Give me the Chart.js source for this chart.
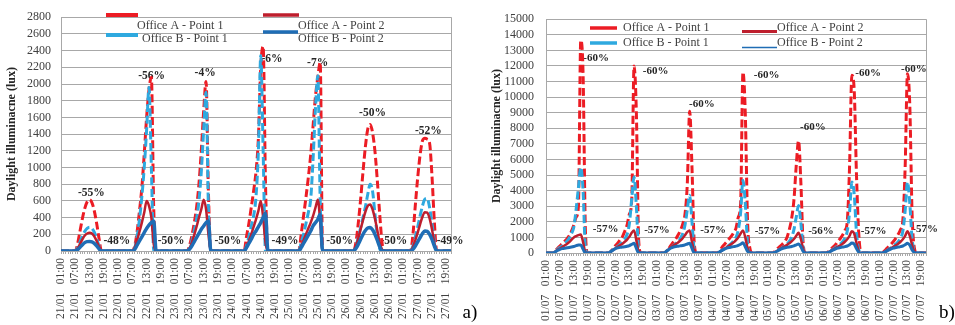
<!DOCTYPE html>
<html><head><meta charset="utf-8">
<script src="https://cdn.jsdelivr.net/npm/chart.js@4.4.1/dist/chart.umd.min.js"></script>
<style>
html,body{margin:0;padding:0;background:#fff;}
#wrap{position:relative;width:955px;height:325px;overflow:hidden;background:#fff;}
#c1{position:absolute;left:0;top:0;}
#c2{position:absolute;left:480px;top:0;}
</style></head><body>
<div id="wrap"><canvas id="c1" width="480" height="325"></canvas><canvas id="c2" width="475" height="325"></canvas></div>
<script>
// ---------- categories ----------
const janDays = ['21/01','22/01','23/01','24/01','25/01','26/01','27/01'];
const julDays = ['01/07','02/07','03/07','04/07','05/07','06/07','07/07'];
const hourLabels = ['01:00','02:00','03:00','04:00','05:00','06:00','07:00','08:00','09:00','10:00','11:00','12:00',
                    '13:00','14:00','15:00','16:00','17:00','18:00','19:00','20:00','21:00','22:00','23:00','24:00'];
const pointCount = 165;
const seriesNames = ['Office A - Point 1','Office B - Point 1','Office A - Point 2','Office B - Point 2'];

// ---------- January (a) series, hourly ----------
const janOfficeA1 = [
 0,0,0,0,0,0,0,90,240,390,510,590,615,580,480,330,150,0,0,0,0,0,0,0,
 0,0,0,0,0,0,0,60,230,480,760,1160,1600,1930,2080,500,0,0,0,0,0,0,0,0,
 0,0,0,0,0,0,60,180,330,520,800,1200,1680,2030,700,0,0,0,0,0,0,0,0,0,
 0,0,0,0,0,0,170,330,520,720,950,1350,2200,2450,800,0,0,0,0,0,0,0,0,0,
 0,0,0,0,0,200,420,640,880,1150,1500,1850,2080,2260,0,0,0,0,0,0,0,0,0,0,
 0,0,0,0,100,330,620,950,1250,1460,1515,1420,1200,850,450,100,0,0,0,0,0,0,0,0,
 0,0,0,0,200,550,880,1150,1320,1350,1340,1290,900,350,0,0,0,0,0,0,0];
const janOfficeB1 = [
 0,0,0,0,0,0,0,40,110,180,235,270,285,270,225,150,60,0,0,0,0,0,0,0,
 0,0,0,0,0,0,0,40,170,380,650,1000,1450,1960,1000,0,0,0,0,0,0,0,0,0,
 0,0,0,0,0,0,30,120,240,380,600,950,1450,1900,500,0,0,0,0,0,0,0,0,0,
 0,0,0,0,0,0,60,170,300,420,650,1200,2340,1200,0,0,0,0,0,0,0,0,0,0,
 0,0,0,0,0,100,200,330,460,620,1100,1700,2100,600,0,0,0,0,0,0,0,0,0,0,
 0,0,0,0,60,160,280,400,530,680,800,720,450,180,30,0,0,0,0,0,0,0,0,0,
 0,0,0,0,60,170,290,420,540,620,630,520,330,120,0,0,0,0,0,0,0];
const janOfficeA2 = [
 0,0,0,0,0,0,0,30,85,140,185,210,220,210,175,120,50,0,0,0,0,0,0,0,
 0,0,0,0,0,0,0,40,130,230,340,460,600,540,400,80,0,0,0,0,0,0,0,0,
 0,0,0,0,0,0,30,100,190,290,400,500,615,500,200,0,0,0,0,0,0,0,0,0,
 0,0,0,0,0,0,40,120,200,290,380,480,600,400,100,0,0,0,0,0,0,0,0,0,
 0,0,0,0,0,60,130,200,270,340,420,520,615,350,0,0,0,0,0,0,0,0,0,0,
 0,0,0,0,60,150,260,370,470,540,557,500,390,250,100,20,0,0,0,0,0,0,0,0,
 0,0,0,0,50,130,220,320,410,465,460,390,260,100,0,0,0,0,0,0,0];
const janOfficeB2 = [
 0,0,0,0,0,0,0,15,45,75,100,112,115,110,92,62,25,0,0,0,0,0,0,0,
 0,0,0,0,0,0,0,20,70,120,170,220,270,310,340,360,0,0,0,0,0,0,0,0,
 0,0,0,0,0,0,20,60,110,160,210,260,300,340,360,0,0,0,0,0,0,0,0,0,
 0,0,0,0,0,0,40,90,140,200,240,290,340,400,455,0,0,0,0,0,0,0,0,0,
 0,0,0,0,0,40,90,140,190,240,300,340,380,440,0,0,0,0,0,0,0,0,0,0,
 0,0,0,0,30,80,140,200,245,275,280,255,200,130,50,0,0,0,0,0,0,0,0,0,
 0,0,0,0,20,60,110,160,210,240,235,200,140,60,0,0,0,0,0,0,0];

// ---------- July (b) series, hourly ----------
const julOfficeA1 = [
 0,0,0,0,150,300,450,600,750,900,1100,1400,1800,2300,3000,13650,11500,1500,0,0,0,0,0,0,
 0,0,0,0,100,300,480,650,850,1050,1400,1800,2500,3400,12000,9000,800,0,0,0,0,0,0,0,
 0,0,0,0,100,300,500,720,900,1150,1450,1850,2500,4500,9100,5500,600,0,0,0,0,0,0,0,
 0,0,0,150,380,550,720,900,1080,1300,1600,2300,3200,11600,9000,2000,300,0,0,0,0,0,0,0,
 0,0,0,150,300,420,560,720,1000,1500,2200,3400,5600,7200,4500,600,0,0,0,0,0,0,0,0,
 0,0,100,250,400,550,750,930,1150,1450,2000,5500,11400,10500,5000,1200,0,0,0,0,0,0,0,0,
 0,0,120,280,430,580,750,950,1200,1500,2100,5500,11500,9500,2500,300,0,0,0,0,0];
const julOfficeB1 = [
 0,0,0,0,120,240,350,450,600,750,950,1250,1650,2800,4200,5500,4000,300,0,0,0,0,0,0,
 0,0,0,0,100,220,330,440,560,700,900,1200,1900,3500,4870,3000,200,0,0,0,0,0,0,0,
 0,0,0,0,120,250,370,480,600,750,950,1250,1800,2800,3700,2000,200,0,0,0,0,0,0,0,
 0,0,0,80,180,280,380,500,620,780,1000,1500,2600,4660,3200,600,0,0,0,0,0,0,0,0,
 0,0,0,80,170,260,350,450,570,750,1000,1500,2300,3050,1900,300,0,0,0,0,0,0,0,0,
 0,0,60,150,250,350,460,580,730,950,1400,2600,4550,3800,1300,200,0,0,0,0,0,0,0,0,
 0,0,60,150,250,350,460,580,730,950,1400,2700,4550,3200,900,100,0,0,0,0,0];
const julOfficeA2 = [
 0,0,0,0,100,200,290,380,480,580,700,850,1000,1080,1150,1180,700,50,0,0,0,0,0,0,
 0,0,0,0,100,200,300,400,500,600,720,860,1050,1300,1450,800,80,0,0,0,0,0,0,0,
 0,0,0,0,120,250,370,480,580,680,800,950,1150,1350,1440,700,100,0,0,0,0,0,0,0,
 0,0,0,80,170,270,370,470,570,680,820,1000,1250,1450,1000,300,0,0,0,0,0,0,0,0,
 0,0,0,70,160,250,340,430,520,620,750,900,1100,1300,900,250,0,0,0,0,0,0,0,0,
 0,0,60,140,230,320,410,500,600,720,880,1100,1400,1250,650,100,0,0,0,0,0,0,0,0,
 0,0,60,140,230,320,410,500,600,720,880,1100,1400,1100,500,80,0,0,0,0,0];
const julOfficeB2 = [
 0,0,0,0,80,160,230,280,310,330,350,380,420,470,510,520,250,0,0,0,0,0,0,0,
 0,0,0,0,100,200,280,330,360,380,400,430,480,560,620,300,0,0,0,0,0,0,0,0,
 0,0,0,0,120,230,320,380,420,440,460,480,520,580,620,300,0,0,0,0,0,0,0,0,
 0,0,0,80,170,250,310,350,380,410,440,490,560,660,400,100,0,0,0,0,0,0,0,0,
 0,0,0,60,140,220,290,330,360,390,420,460,520,580,400,100,0,0,0,0,0,0,0,0,
 0,0,50,120,200,270,320,350,380,410,450,530,640,580,280,50,0,0,0,0,0,0,0,0,
 0,0,50,120,200,270,320,350,380,410,450,530,630,500,200,30,0,0,0,0,0];

// ---------- axis ranges ----------
const janYMax = 2800, janYStep = 200;
const julYMax = 15000, julYStep = 1000;

// ---------- percentage notes (hour index, value) ----------
const janNoteText  = ['-55%','-56%','-4%','-6%','-7%','-50%','-52%','-48%','-50%','-50%','-49%','-50%','-50%','-49%'];
const janNoteHour  = [12.8,38.1,60.6,88.7,107.9,131.0,154.5,23.5,46.3,70.2,94.2,117.2,140.0,163.6];
const janNoteValue = [691,2097,2132,2296,2249,1652,1441,117,117,117,117,117,117,117];
const julNoteText  = ['-60%','-60%','-60%','-60%','-60%','-60%','-60%','-57%','-57%','-57%','-57%','-56%','-57%','-57%'];
const julNoteHour  = [21.6,47.3,67.3,95.2,115.2,139.0,158.8,25.7,47.9,72.1,95.6,118.7,141.4,163.6];
const julNoteValue = [12500,11690,9580,11420,8100,11520,11800,1540,1475,1475,1410,1410,1410,1540];

// ---------- build ----------
function buildLabels(days){
  const out=[];
  days.forEach(d=>hourLabels.forEach(h=>out.push(d+'   '+h)));
  return out.slice(0,pointCount);
}
const RED='#ec1c24', LBLUE='#2ea9df', DRED='#be1e2d', BLUE='#1f6db5';
const GRID='#a8a8a8', TXT='#404040';
const FONT='"Liberation Serif", "Times New Roman", serif';
Chart.defaults.font.family = FONT;

function ds(label,data,color,width,dash,order){
  return {label,data,borderColor:color,backgroundColor:color,borderWidth:width,borderDash:dash,
    pointRadius:0,pointHoverRadius:0,fill:false,tension:0.4,cubicInterpolationMode:'monotone',
    order,borderCapStyle:'butt',borderJoinStyle:'round'};
}

const decor = {
  id:'decor',
  beforeDatasetsDraw(chart,args,o){
    const {ctx,chartArea:a,scales:{x,y}} = chart;
    ctx.save();
    ctx.strokeStyle=GRID; ctx.lineWidth=1;
    ctx.beginPath(); ctx.moveTo(Math.round(a.right)+0.5,a.top); ctx.lineTo(Math.round(a.right)+0.5,a.bottom); ctx.stroke();
    ctx.font='bold '+o.noteSize+'px '+FONT;
    ctx.fillStyle='#262626'; ctx.textAlign='center'; ctx.textBaseline='middle';
    o.text.forEach((t,i)=>ctx.fillText(t,x.getPixelForValue(o.hour[i]),y.getPixelForValue(o.value[i])));
    ctx.restore();
  },
  afterDraw(chart,args,o){
    const ctx=chart.ctx;
    ctx.save();
    o.legend.forEach(e=>{
      ctx.strokeStyle=e.c; ctx.lineWidth=e.w; ctx.setLineDash([]);
      ctx.beginPath(); ctx.moveTo(e.sx1,e.sy); ctx.lineTo(e.sx2,e.sy); ctx.stroke();
      ctx.fillStyle=TXT; ctx.font=o.legendSize+'px '+FONT; ctx.textAlign='left'; ctx.textBaseline='middle';
      ctx.fillText(e.t,e.tx,e.ty);
    });
    ctx.fillStyle='#000'; ctx.font='19px '+FONT; ctx.textAlign='center'; ctx.textBaseline='alphabetic';
    ctx.fillText(o.panel.t,o.panel.x,o.panel.y);
    ctx.restore();
  }
};

function makeChart(id,days,series,yMax,yStep,widths,geom,notes,legend,panel){
  const labels=buildLabels(days);
  return new Chart(document.getElementById(id),{
    type:'line',
    data:{labels,datasets:[
      ds(seriesNames[0],series[0],RED,widths[0],[8,3.5],3),
      ds(seriesNames[1],series[1],LBLUE,widths[1],[8,3.5],2),
      ds(seriesNames[2],series[2],DRED,widths[2],[],1),
      ds(seriesNames[3],series[3],BLUE,widths[3],[],0)
    ]},
    options:{
      responsive:false,animation:false,devicePixelRatio:1,
      layout:{padding:{top:geom.top,right:geom.right,left:0,bottom:0}},
      plugins:{legend:{display:false},tooltip:{enabled:false},
        decor:{text:notes.text,hour:notes.hour,value:notes.value,noteSize:notes.size,legend,legendSize:12,panel}},
      scales:{
        x:{type:'category',offset:false,
          grid:{drawOnChartArea:false,drawTicks:true,tickLength:3,color:GRID,lineWidth:1},
          border:{display:true,color:GRID,width:1},
          ticks:{autoSkip:false,maxRotation:90,minRotation:90,padding:4,color:TXT,font:{size:11.5,family:FONT},
            callback:function(v,i){return i%6===0?this.getLabelForValue(v):'';}},
          afterFit(s){s.height=geom.xh;}
        },
        y:{min:0,max:yMax,
          grid:{color:GRID,lineWidth:1,drawTicks:false},
          border:{display:true,color:GRID,width:1},
          ticks:{stepSize:yStep,autoSkip:false,padding:geom.tickPad,color:TXT,font:{size:12,family:FONT},
            callback:v=>String(v)},
          title:{display:true,text:'Daylight illuminacne (lux)',color:'#262626',
            font:{size:12,weight:'bold',family:FONT},padding:{top:geom.titlePad,bottom:0}},
          afterFit(s){s.width=geom.yw;}
        }
      }
    },
    plugins:[decor]
  });
}

makeChart('c1',janDays,[janOfficeA1,janOfficeB1,janOfficeA2,janOfficeB2],janYMax,janYStep,[3,3,2.5,3.5],
  {top:12,right:29,xh:74,yw:61,tickPad:10,titlePad:5},
  {text:janNoteText,hour:janNoteHour,value:janNoteValue,size:11.5},
  [{t:seriesNames[0],c:RED,w:4,sx1:106,sx2:138,sy:15,tx:137,ty:26},
   {t:seriesNames[1],c:LBLUE,w:4,sx1:106,sx2:138,sy:35,tx:142,ty:39},
   {t:seriesNames[2],c:DRED,w:3.5,sx1:263,sx2:299,sy:15,tx:298,ty:26},
   {t:seriesNames[3],c:BLUE,w:3.5,sx1:263,sx2:298,sy:32,tx:298,ty:39}],
  {t:'a)',x:470,y:318});

makeChart('c2',julDays,[julOfficeA1,julOfficeB1,julOfficeA2,julOfficeB2],julYMax,julYStep,[3,3,2.5,3],
  {top:19,right:29,xh:72,yw:66,tickPad:12,titlePad:10},
  {text:julNoteText,hour:julNoteHour,value:julNoteValue,size:11},
  [{t:seriesNames[0],c:RED,w:3.5,sx1:110,sx2:137,sy:28,tx:143,ty:28},
   {t:seriesNames[1],c:LBLUE,w:3.5,sx1:110,sx2:137,sy:43,tx:143,ty:43},
   {t:seriesNames[2],c:DRED,w:3,sx1:262,sx2:297,sy:31.5,tx:297,ty:28},
   {t:seriesNames[3],c:BLUE,w:1.5,sx1:262,sx2:297,sy:47.5,tx:297,ty:43}],
  {t:'b)',x:467,y:318});
</script>
</body></html>
